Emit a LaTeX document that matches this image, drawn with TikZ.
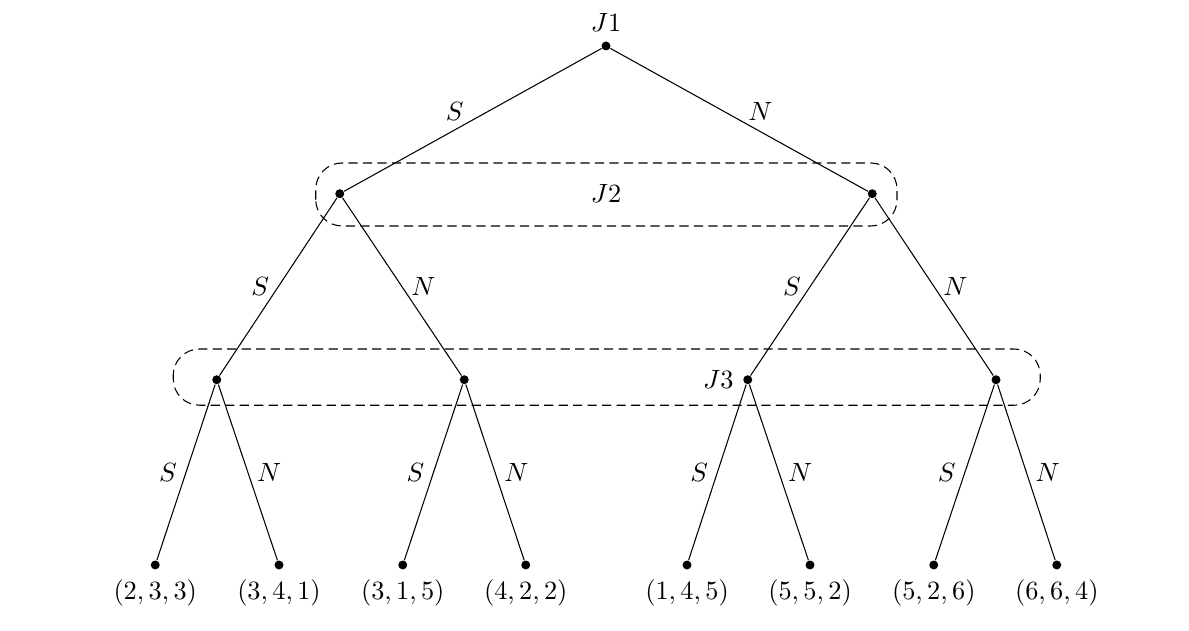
\documentclass[tikz,border=0pt]{standalone}
\usepackage{tikz}

\begin{document}
\begin{tikzpicture}[
  dot/.style={circle, fill=black, inner sep=0pt, minimum size=3.4pt},
  infoset/.style={dash pattern=on 3.5pt off 2pt, rounded corners=0.35cm}]
\useasboundingbox (0,0) rectangle (15.853,8.413);
% decision nodes
\node [dot, label={above:$J1$}] (r) at (8.08,7.80) {};
\node [dot] (a) at (4.53,5.83) {};
\node [dot] (b) at (11.63,5.83) {};
\node [dot] (aa) at (2.89,3.35) {};
\node [dot] (ab) at (6.19,3.35) {};
\node [dot, label={left:$J3$}] (ba) at (9.97,3.35) {};
\node [dot] (bb) at (13.28,3.35) {};
% terminal nodes
\node [dot, label={below:$(2,3,3)$}] (l1) at (2.07,0.88) {};
\node [dot, label={below:$(3,4,1)$}] (l2) at (3.72,0.88) {};
\node [dot, label={below:$(3,1,5)$}] (l3) at (5.37,0.88) {};
\node [dot, label={below:$(4,2,2)$}] (l4) at (7.01,0.88) {};
\node [dot, label={below:$(1,4,5)$}] (l5) at (9.16,0.88) {};
\node [dot, label={below:$(5,5,2)$}] (l6) at (10.80,0.88) {};
\node [dot, label={below:$(5,2,6)$}] (l7) at (12.45,0.88) {};
\node [dot, label={below:$(6,6,4)$}] (l8) at (14.09,0.88) {};
% branches
\draw (r) -- node [midway, left, yshift=3pt] {$S$} (a);
\draw (r) -- node [midway, right, yshift=3pt] {$N$} (b);
\draw (a) -- node [midway, left] {$S$} (aa);
\draw (a) -- node [midway, right] {$N$} (ab);
\draw (b) -- node [midway, left] {$S$} (ba);
\draw (b) -- node [midway, right] {$N$} (bb);
\draw (aa) -- node [midway, left] {$S$} (l1);
\draw (aa) -- node [midway, right] {$N$} (l2);
\draw (ab) -- node [midway, left] {$S$} (l3);
\draw (ab) -- node [midway, right] {$N$} (l4);
\draw (ba) -- node [midway, left] {$S$} (l5);
\draw (ba) -- node [midway, right] {$N$} (l6);
\draw (bb) -- node [midway, left] {$S$} (l7);
\draw (bb) -- node [midway, right] {$N$} (l8);
% information sets
\draw [infoset] (4.21,5.40) rectangle (11.96,6.24);
\node (j2) at (8.08,5.83) {$J2$};
\draw [infoset] (2.31,3.01) rectangle (13.87,3.76);
\end{tikzpicture}
\end{document}
